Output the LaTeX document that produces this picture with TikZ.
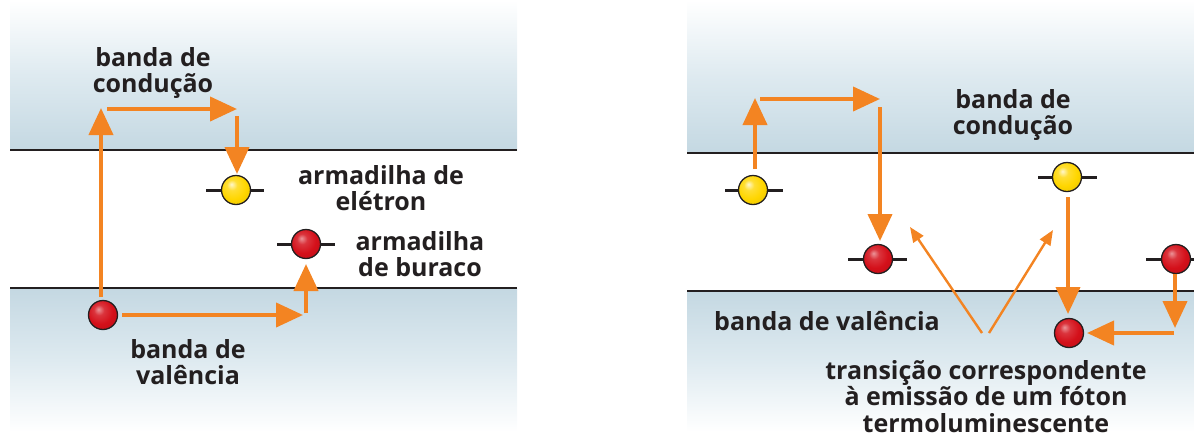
\documentclass[tikz,border=0pt]{standalone}
\usepackage{fontspec}
\setmainfont{Open Sans}
\usetikzlibrary{arrows.meta}
\definecolor{bandc}{RGB}{196,216,226}
\definecolor{bandm}{RGB}{222,234,240}
\definecolor{orng}{RGB}{243,132,34}
\definecolor{ink}{RGB}{35,31,32}
\definecolor{ybase}{RGB}{255,214,0}
\definecolor{rbase}{RGB}{212,16,26}
\pgfdeclareradialshading{myyball}{\pgfqpoint{-8bp}{10bp}}{color(0bp)=(ybase!20!white); color(9bp)=(ybase!80!white); color(22bp)=(ybase); color(42bp)=(ybase!88!black); color(62bp)=(ybase!70!black)}
\pgfdeclareradialshading{myrball}{\pgfqpoint{-8bp}{10bp}}{color(0bp)=(rbase!45!white); color(9bp)=(rbase!85!white); color(22bp)=(rbase); color(42bp)=(rbase!85!black); color(62bp)=(rbase!60!black)}
\begin{document}
\begin{tikzpicture}[x=1pt,y=-1pt,
  lbl/.style={font=\bfseries\fontsize{25}{26.5}\selectfont, text=ink, align=center, inner sep=0pt, anchor=north},
  bigarrow/.style={draw=orng, line width=4pt, -{Triangle[length=27pt,width=24pt]}},
  thinarrow/.style={draw=orng, line width=2.4pt, -{Triangle[length=15pt,width=12pt]}},
  yelball/.style={circle, draw=ink, line width=1.3pt, minimum size=29pt, inner sep=0pt, shading=myyball},
  redball/.style={circle, draw=ink, line width=1.3pt, minimum size=29pt, inner sep=0pt, shading=myrball},
  trap/.style={draw=ink, line width=3pt},
  bandline/.style={draw=ink, line width=1.8pt}]
\useasboundingbox (0,0) rectangle (1194,432);
% ---------- left panel bands ----------
\shade[top color=white, bottom color=bandc, middle color=bandm] (10,0) rectangle (517,150);
\shade[top color=bandc, bottom color=white, middle color=bandm] (10,288) rectangle (517,432);
\draw[bandline] (10,150) -- (517,150);
\draw[bandline] (10,288) -- (517,288);
% ---------- right panel bands ----------
\shade[top color=white, bottom color=bandc, middle color=bandm] (687,0) rectangle (1194,153);
\shade[top color=bandc, bottom color=white, middle color=bandm] (687,291) rectangle (1194,432);
\draw[bandline] (687,153) -- (1194,153);
\draw[bandline] (687,291) -- (1194,291);
% ---------- left panel ----------
\draw[trap] (206,190) -- (264,190);
\draw[trap] (277,244) -- (335,244);
\node[yelball] (ly) at (236,190) {};
\node[redball] (lh) at (306,244) {};
\node[redball] (lv) at (103,315) {};
\coordinate (la1) at (101,297);
\coordinate (la2) at (101,108);
\coordinate (la3) at (107,109);
\coordinate (la4) at (237,109);
\coordinate (la5) at (237,116);
\coordinate (la6) at (237,174);
\coordinate (la7) at (122,315);
\coordinate (la8) at (303,315);
\coordinate (la9) at (306,313);
\coordinate (la10) at (306,264);
\draw[bigarrow] (la1) -- (la2);
\draw[bigarrow] (la3) -- (la4);
\draw[bigarrow] (la5) -- (la6);
\draw[bigarrow] (la7) -- (la8);
\draw[bigarrow] (la9) -- (la10);
\node[lbl] (lcond) at (153,47) {banda de\\condução};
\node[lbl] (ltrape) at (381,165) {armadilha de\\elétron};
\node[lbl] (ltraph) at (420,231) {armadilha\\de buraco};
\node[lbl] (lval) at (188,339) {banda de\\valência};
% ---------- right panel ----------
\draw[trap] (725,190) -- (783,190);
\draw[trap] (848,259) -- (907,259);
\draw[trap] (1038,177) -- (1097,177);
\draw[trap] (1146,259) -- (1200,259);
\node[yelball] (ry1) at (753,190) {};
\node[redball] (rh1) at (878,259) {};
\node[yelball] (ry2) at (1067,177) {};
\node[redball] (rv) at (1069,333) {};
\node[redball] (rh2) at (1176,259) {};
\coordinate (ra1) at (755,169);
\coordinate (ra2) at (755,98);
\coordinate (ra3) at (760,99);
\coordinate (ra4) at (880,99);
\coordinate (ra5) at (880,107);
\coordinate (ra6) at (880,241);
\coordinate (ra7) at (1068,197);
\coordinate (ra8) at (1068,314);
\coordinate (ra9) at (1175,274);
\coordinate (ra10) at (1175,328);
\coordinate (ra11) at (1174,333);
\coordinate (ra12) at (1087,333);
\coordinate (rt1) at (982,333);
\coordinate (rt2) at (910,227);
\coordinate (rt3) at (989,333);
\coordinate (rt4) at (1053,230);
\draw[bigarrow] (ra1) -- (ra2);
\draw[bigarrow] (ra3) -- (ra4);
\draw[bigarrow] (ra5) -- (ra6);
\draw[bigarrow] (ra7) -- (ra8);
\draw[bigarrow] (ra9) -- (ra10);
\draw[bigarrow] (ra11) -- (ra12);
\draw[thinarrow] (rt1) -- (rt2);
\draw[thinarrow] (rt3) -- (rt4);
\node[lbl] (rcond) at (1013,89) {banda de\\condução};
\node[lbl] (rval) at (827,311) {banda de valência};
\node[lbl] (rtrans) at (986,360) {transição correspondente\\à emissão de um fóton\\termoluminescente};
\end{tikzpicture}
\end{document}
